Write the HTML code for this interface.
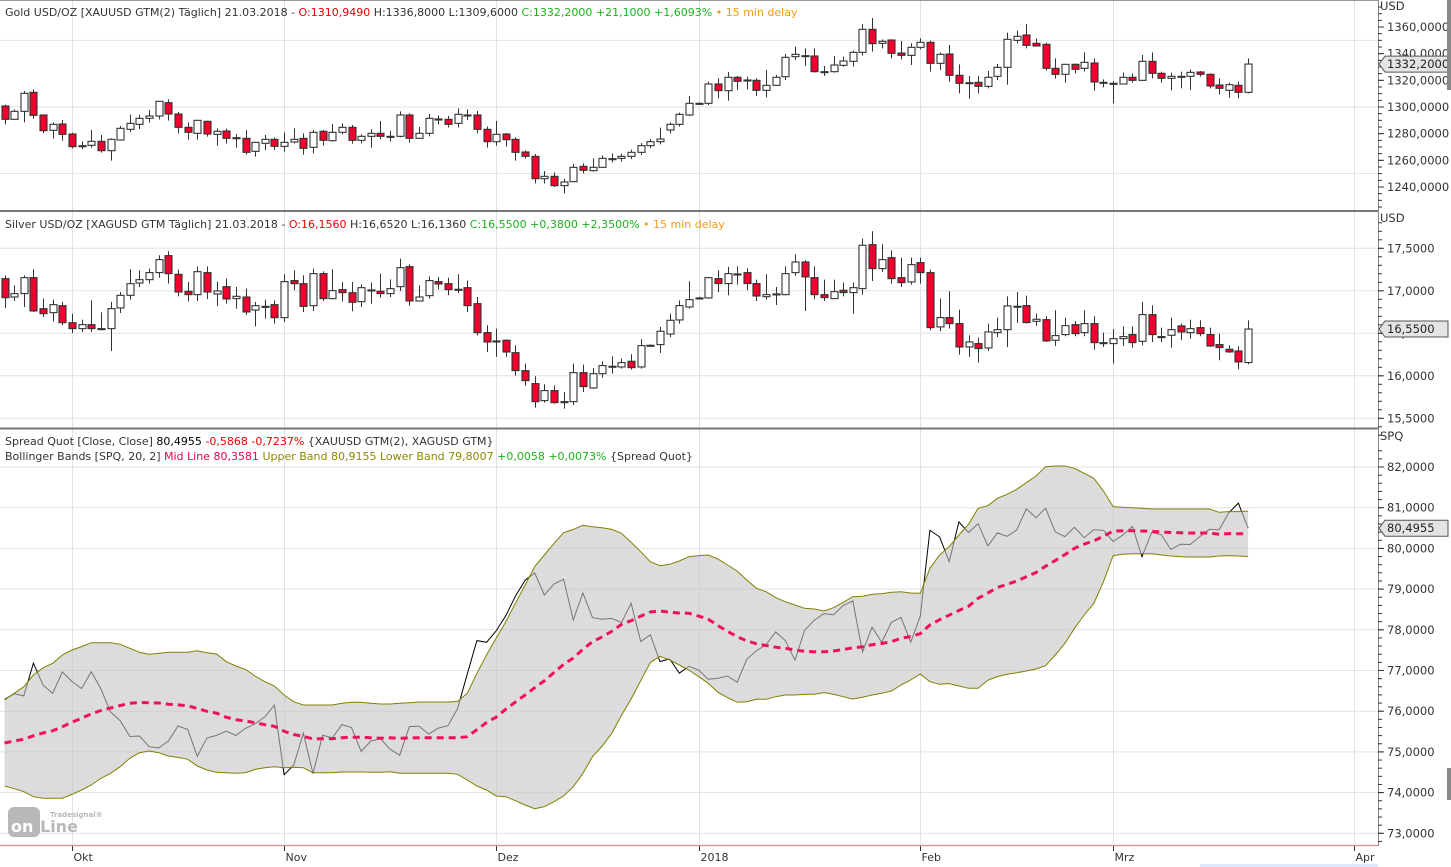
<!DOCTYPE html>
<html><head><meta charset="utf-8">
<style>
html,body{margin:0;padding:0;background:#fff;}
svg{display:block;font-family:"DejaVu Sans","Liberation Sans",sans-serif;}
</style></head>
<body>
<svg id="chart" width="1451" height="867" viewBox="0 0 1451 867" xmlns="http://www.w3.org/2000/svg">
<defs>
<clipPath id="c1"><rect x="0" y="1" width="1378" height="210"/></clipPath>
<clipPath id="c2"><rect x="0" y="213" width="1378" height="215"/></clipPath>
<clipPath id="c3"><rect x="0" y="430" width="1378" height="415"/></clipPath>
</defs>
<rect x="0" y="0" width="1451" height="867" fill="#fff"/>
<g id="grid"></g>
<g id="pane1" clip-path="url(#c1)"></g>
<g id="pane2" clip-path="url(#c2)"></g>
<g id="pane3" clip-path="url(#c3)"></g>
<g id="axes"></g>

<text x="5" y="16" font-size="11" fill="#333">Gold USD/OZ [XAUUSD GTM(2) Täglich] 21.03.2018 - <tspan fill="#e00">O:1310,9490</tspan> H:1336,8000 L:1309,6000 <tspan fill="#1bb31b">C:1332,2000 +21,1000 +1,6093%</tspan> <tspan fill="#f39c12">• 15 min delay</tspan></text>
<text x="5" y="228" font-size="11" fill="#333">Silver USD/OZ [XAGUSD GTM Täglich] 21.03.2018 - <tspan fill="#e00">O:16,1560</tspan> H:16,6520 L:16,1360 <tspan fill="#1bb31b">C:16,5500 +0,3800 +2,3500%</tspan> <tspan fill="#f39c12">• 15 min delay</tspan></text>
<text x="5" y="445" font-size="11" fill="#333">Spread Quot [Close, Close] <tspan fill="#000">80,4955</tspan> <tspan fill="#e00">-0,5868 -0,7237%</tspan> {XAUUSD GTM(2), XAGUSD GTM}</text>
<text x="5" y="460" font-size="11" fill="#333">Bollinger Bands [SPQ, 20, 2] <tspan fill="#e8005a">Mid Line 80,3581</tspan> <tspan fill="#8a8a00">Upper Band 80,9155 Lower Band 79,8007</tspan> <tspan fill="#1bb31b">+0,0058 +0,0073%</tspan> {Spread Quot}</text>

<g>
<rect x="8" y="807" width="32" height="30" rx="6" fill="#b8b8b8"/>
<text x="11" y="832" font-size="16" font-weight="bold" fill="#fff">on</text>
<text x="40" y="832" font-size="16" font-weight="bold" fill="#b8b8b8">Line</text>
<text x="50" y="817" font-size="7" font-weight="bold" fill="#b8b8b8">Tradesignal®</text>
</g>
<rect x="1200" y="864" width="178" height="3" fill="#dde8fb"/>
<rect x="1447" y="0" width="4" height="90" fill="#888"/>
<rect x="1447" y="768" width="4" height="32" fill="#888"/>
</svg>
<script>
const goldO=[1300.75,1290.75,1296.75,1311,1294,1282.5,1287.25,1279.75,1271,1271.25,1274.25,1267.25,1275.25,1283.25,1287,1291.5,1293.25,1303.25,1294.75,1284.75,1280.25,1289.25,1279.5,1282,1277,1276.5,1266.75,1272.75,1275.75,1270.5,1273.75,1276.5,1269.75,1281.75,1274.75,1281,1284.75,1275,1278,1280.25,1278,1278,1294,1276.5,1280.25,1291,1290.75,1287.75,1294,1294,1283.25,1274,1279.75,1275.75,1266.25,1263,1246.25,1248,1241,1244,1255.5,1252.25,1254.75,1261.25,1261.5,1263,1266,1271,1274,1282.75,1287,1294,1302.75,1302.75,1317.25,1312.25,1322.25,1320.25,1320,1312.5,1316.25,1322.75,1337.75,1338.5,1338.25,1326.5,1326.5,1331.25,1334.25,1341,1358.25,1347.75,1350.25,1340.5,1338.75,1344.75,1348.5,1332.75,1339.75,1323.75,1318.25,1318.5,1315.5,1323,1329.75,1350,1354,1347.75,1347,1329,1324.5,1332,1329,1333,1318.5,1317.75,1317.25,1322.25,1320,1334.25,1325.25,1321.5,1323,1323,1326.25,1324.5,1316.5,1312.5,1316.25,1311];
const goldH=[1301.75,1298.25,1312,1313.25,1294,1288.5,1290.25,1280.75,1274.25,1282.75,1279,1276.5,1285.75,1294.25,1294.25,1297.75,1304.25,1305.75,1296.25,1288.5,1290,1289.75,1284,1283.75,1279.75,1282.75,1273.5,1279,1277.25,1281,1284,1280.25,1282.75,1282.75,1287.25,1287.75,1286.5,1279.5,1283.25,1289.5,1282,1296.75,1295.25,1285,1294.75,1293.75,1293.25,1299,1298.25,1297,1285.25,1289.5,1280.5,1277.25,1267.5,1264.75,1252,1251,1246.25,1257.25,1257.75,1261.5,1263.75,1265.25,1265,1268,1273,1276,1284.5,1288.5,1295.75,1308.25,1303.5,1319,1321.5,1326.25,1323.25,1322.75,1321.5,1327.75,1324,1339.75,1345.25,1344,1344,1330.75,1338.25,1337.75,1342.25,1362.25,1366.75,1350.75,1350.75,1349.5,1347.75,1351.5,1349.75,1341,1346.5,1332,1323.25,1323.25,1327,1332.25,1355.75,1357.25,1362.25,1351.5,1348.25,1336.5,1332,1332.75,1341,1336.5,1320.75,1319.5,1325.75,1325.25,1339,1341,1326.5,1325.75,1326.5,1328.25,1327,1325.25,1321.5,1318.25,1319,1336.5];
const goldL=[1287,1290.75,1288.5,1291.25,1280.25,1276.25,1274.75,1269,1268.5,1269.5,1265.75,1259.75,1274.75,1281.25,1283.5,1288.25,1290.75,1289.75,1280.25,1275.5,1275.5,1277.75,1271,1272.5,1269.5,1264.25,1262.75,1267.75,1267.75,1266.5,1272.75,1264.25,1265.25,1271,1274,1279.5,1272.5,1272.75,1269.5,1275.75,1274.25,1277.25,1273.25,1276.5,1278,1287,1284.75,1284.75,1290.25,1280.25,1269.5,1271,1270.25,1259.75,1261.25,1242.75,1242.75,1240,1235.25,1244,1250.25,1251.5,1254.75,1258.5,1259,1261,1264,1269,1272,1280,1285.25,1293.25,1302,1301.5,1306.5,1304.75,1312.75,1313.25,1308.25,1307.25,1315.75,1320.25,1335.25,1330.75,1325.75,1323.25,1325.75,1330.25,1330.25,1338.5,1341.5,1344,1336.5,1335.75,1331.5,1343.25,1326.5,1327.75,1319,1310.25,1306.25,1310.25,1314,1320.25,1316.75,1347.75,1344,1345.25,1327.25,1321.25,1318.25,1325.25,1326.5,1312.25,1314.75,1302.75,1317.25,1318.25,1319.5,1321.5,1318.25,1312.5,1314,1312.75,1322.75,1314,1309.5,1307,1306.5,1310.25];
const goldC=[1290.75,1296.75,1310.25,1293.75,1282.25,1287,1279.5,1270.25,1271,1274.25,1267.25,1275.75,1284,1287.75,1291.5,1293.25,1304.25,1294.75,1284.75,1281,1290,1279.75,1281.75,1276.5,1277,1266,1273.5,1275.75,1270.5,1273.5,1275.75,1269,1281,1275,1281,1284.75,1275,1278,1280.25,1278,1278,1294,1276.5,1280.25,1291.5,1291,1287,1294.5,1294,1283.25,1274,1279.5,1275.5,1266,1263,1246.25,1248,1241,1243.75,1254.75,1252.5,1254.75,1261.5,1261.25,1263,1266,1271,1274,1276,1287,1294.5,1302.75,1302.75,1317.25,1312.25,1322.25,1319.25,1320.25,1312.5,1316.25,1322.25,1337.25,1339.5,1338.5,1326.5,1326.5,1331.5,1334.5,1341,1358.25,1347.5,1349.25,1340.25,1338.75,1344.75,1348.5,1332.75,1339.5,1323.75,1317.75,1318.25,1315.5,1322.25,1329.75,1350.75,1353,1346.25,1345.75,1329,1324.5,1332,1328.25,1333.5,1318.75,1318.5,1317.75,1322.25,1320,1334.25,1325.25,1321.5,1323,1323,1326,1324.5,1315.75,1314,1316.75,1311,1332.2];
const silverO=[17.143,16.927,16.967,17.155,16.79,16.743,16.825,16.625,16.555,16.602,16.555,16.555,16.798,16.947,17.092,17.131,17.214,17.414,17.194,16.994,16.955,17.214,16.963,17.049,16.908,16.927,16.774,16.817,16.837,16.684,17.12,17.084,16.825,17.202,16.908,17.014,16.978,16.872,17.01,16.994,16.967,17.049,17.284,16.88,16.943,17.108,17.084,17.018,17.037,16.849,16.508,16.41,16.418,16.272,16.061,15.908,15.708,15.826,15.696,15.696,16.037,15.857,16.025,16.112,16.104,16.171,16.104,16.355,16.367,16.492,16.657,16.81,16.916,16.916,17.143,17.085,17.198,17.214,17.085,16.931,16.963,16.955,17.214,17.339,17.155,16.955,16.908,17.006,16.979,17.026,17.543,17.261,17.39,17.155,17.104,17.332,17.214,16.575,16.685,16.614,16.339,16.379,16.328,16.508,16.543,16.818,16.826,16.641,16.661,16.418,16.485,16.602,16.508,16.614,16.39,16.379,16.437,16.485,16.406,16.72,16.461,16.477,16.587,16.508,16.567,16.485,16.367,16.312,16.292,16.156];
const silverH=[17.182,17.064,17.182,17.253,16.908,16.896,16.869,16.731,16.661,16.888,16.747,16.869,16.986,17.253,17.241,17.261,17.418,17.465,17.249,17.104,17.288,17.288,17.108,17.143,17.045,17.025,16.869,16.896,16.888,17.194,17.241,17.182,17.261,17.229,17.253,17.104,17.104,17.076,17.096,17.202,17.135,17.378,17.312,17.064,17.17,17.163,17.155,17.194,17.123,16.927,16.594,16.555,16.429,16.359,16.143,15.994,15.9,15.888,15.81,16.143,16.131,16.092,16.171,16.229,16.202,16.253,16.43,16.37,16.575,16.732,16.888,17.112,16.93,17.163,17.241,17.281,17.288,17.265,17.132,17.194,17.045,17.288,17.43,17.359,17.288,17.132,17.132,17.096,17.096,17.614,17.7,17.547,17.477,17.39,17.39,17.39,17.249,16.908,16.994,16.779,16.477,16.449,16.614,16.685,16.935,16.987,16.943,16.732,16.7,16.771,16.685,16.645,16.771,16.7,16.508,16.547,16.582,16.582,16.869,16.83,16.567,16.685,16.614,16.661,16.653,16.567,16.496,16.359,16.347,16.652];
const silverL=[16.798,16.88,16.81,16.751,16.692,16.641,16.594,16.504,16.516,16.516,16.535,16.292,16.739,16.896,17.045,17.084,17.155,17.084,16.935,16.876,16.88,16.904,16.821,16.849,16.79,16.716,16.582,16.672,16.614,16.633,17.006,16.751,16.763,16.88,16.9,16.876,16.759,16.81,16.849,16.919,16.927,16.998,16.825,16.88,16.908,17.017,16.947,16.974,16.751,16.476,16.28,16.222,16.222,16.002,15.884,15.625,15.684,15.672,15.614,15.657,15.81,15.845,15.978,16.025,16.084,16.073,16.085,16.35,16.269,16.457,16.614,16.79,16.9,16.908,16.986,16.947,17.073,17.006,16.88,16.896,16.833,16.947,17.175,16.763,16.9,16.88,16.908,16.935,16.731,16.955,17.116,17.222,17.085,17.045,17.073,17.085,16.535,16.524,16.555,16.249,16.222,16.155,16.292,16.457,16.339,16.622,16.614,16.587,16.398,16.351,16.465,16.465,16.465,16.308,16.339,16.143,16.351,16.332,16.359,16.398,16.398,16.332,16.418,16.438,16.465,16.339,16.183,16.269,16.077,16.136];
const silverC=[16.919,16.967,17.155,16.763,16.731,16.837,16.625,16.555,16.602,16.555,16.555,16.79,16.947,17.084,17.131,17.214,17.367,17.202,16.986,16.955,17.225,16.986,16.998,16.904,16.935,16.751,16.825,16.817,16.684,17.108,17.084,16.817,17.202,16.908,17.002,16.978,16.865,17.037,17.01,16.967,17.025,17.272,16.88,16.927,17.12,17.08,17.014,17.018,16.825,16.508,16.398,16.41,16.28,16.061,15.943,15.696,15.826,15.684,15.696,16.037,15.873,16.025,16.12,16.112,16.155,16.096,16.355,16.359,16.524,16.653,16.826,16.896,16.916,17.155,17.085,17.202,17.198,17.085,16.939,16.955,16.963,17.202,17.339,17.163,16.955,16.92,16.99,16.979,17.037,17.536,17.261,17.367,17.143,17.096,17.308,17.214,16.567,16.685,16.614,16.339,16.398,16.32,16.516,16.543,16.822,16.818,16.626,16.665,16.41,16.473,16.59,16.496,16.614,16.39,16.39,16.437,16.461,16.39,16.72,16.485,16.45,16.543,16.516,16.555,16.496,16.351,16.332,16.281,16.163,16.55];
const upperBand=[76.275,76.439,76.603,76.89,77.07,77.176,77.381,77.504,77.586,77.684,77.684,77.684,77.643,77.545,77.446,77.397,77.421,77.446,77.446,77.446,77.487,77.438,77.405,77.217,77.11,77.028,76.865,76.725,76.619,76.398,76.234,76.152,76.152,76.152,76.152,76.193,76.218,76.218,76.193,76.177,76.177,76.193,76.21,76.226,76.226,76.226,76.226,76.242,76.439,76.93,77.381,77.79,78.2,78.65,79.1,79.551,79.838,80.124,80.386,80.468,80.567,80.534,80.509,80.468,80.37,80.149,79.92,79.674,79.576,79.609,79.691,79.797,79.822,79.838,79.74,79.592,79.445,79.224,79.019,78.937,78.79,78.691,78.61,78.528,78.511,78.462,78.544,78.675,78.814,78.822,78.872,78.888,78.921,78.937,78.904,78.896,79.51,79.838,80.043,80.329,80.591,80.985,81.05,81.23,81.329,81.451,81.615,81.779,82.008,82.025,82.025,81.967,81.845,81.722,81.41,81.026,81.009,81.001,80.985,80.968,80.968,80.968,80.968,80.968,80.968,80.968,80.886,80.903,80.903,80.9155];
const lowerBand=[74.162,74.096,74.023,73.9,73.859,73.859,73.859,73.957,74.064,74.186,74.35,74.473,74.637,74.842,74.981,75.022,74.981,74.899,74.866,74.817,74.653,74.555,74.498,74.49,74.473,74.49,74.571,74.612,74.637,74.612,74.621,74.612,74.49,74.49,74.49,74.506,74.506,74.506,74.498,74.498,74.514,74.473,74.473,74.473,74.473,74.473,74.473,74.449,74.309,74.162,74.064,73.916,73.9,73.802,73.695,73.605,73.654,73.777,73.916,74.146,74.473,74.883,75.145,75.456,75.9,76.3,76.75,77.2,77.35,77.258,77.135,77.012,76.849,76.685,76.464,76.333,76.218,76.234,76.292,76.292,76.357,76.398,76.398,76.415,76.415,76.456,76.415,76.357,76.3,76.341,76.398,76.439,76.497,76.644,76.767,76.914,76.726,76.66,76.677,76.62,76.562,76.562,76.758,76.849,76.906,76.947,76.988,77.037,77.119,77.381,77.668,78.036,78.364,78.651,79.183,79.822,79.854,79.871,79.871,79.871,79.838,79.813,79.797,79.789,79.789,79.789,79.813,79.822,79.813,79.8007];
const goldTicks=[1360,1340,1320,1300,1280,1260,1240];
const goldGrid=[1350,1300,1250];
const silverTicks=[17.5,17.0,16.5,16.0,15.5];
const spreadTicks=[82,81,80,79,78,77,76,75,74,73];
const monthLabels=["Okt","Nov","Dez","2018","Feb","Mrz","Apr"];
const monthIndex=[7,29,51,72,95,115,140];

const NS="http://www.w3.org/2000/svg";
function el(tag,attrs,parent){const e=document.createElementNS(NS,tag);for(const k in attrs)e.setAttribute(k,attrs[k]);if(parent)parent.appendChild(e);return e;}
const xAt=i=>4.5+9.64*i;
const yGold=v=>27+(1360-v)*(160/120);
const ySilver=v=>248.3+(17.5-v)*85;
const ySpread=v=>467+(82-v)*40.7;
const fmt=(v,d)=>v.toFixed(d).replace('.',',');
const grid=document.getElementById('grid'),axes=document.getElementById('axes');
const p1=document.getElementById('pane1'),p2=document.getElementById('pane2'),p3=document.getElementById('pane3');

monthIndex.forEach((mi,k)=>{
  const x=Math.round(xAt(mi))+0.5;
  const g=el('line',{x1:x,x2:x,y1:1,y2:845,stroke:'#e2e2e2','stroke-width':1},grid);
  
  
  const t=el('line',{x1:x,x2:x,y1:845,y2:851,stroke:'#333'},axes);
  
  
  const lb=el('text',{x:x+1,y:861,'font-size':11,fill:'#333'},axes);
  lb.textContent=monthLabels[k];
  
  
});
goldGrid.forEach(v=>{const l=el('line',{x1:0,x2:1378,y1:yGold(v),y2:yGold(v),stroke:'#e2e2e2'},grid);});
silverTicks.forEach(v=>{const l=el('line',{x1:0,x2:1378,y1:ySilver(v),y2:ySilver(v),stroke:'#e2e2e2'},grid);});
spreadTicks.forEach(v=>{const l=el('line',{x1:0,x2:1378,y1:ySpread(v),y2:ySpread(v),stroke:'#e2e2e2'},grid);});

function candles(parent,O,H,L,C,ys,name){
  for(let i=0;i<C.length;i++){
    const x=Math.round(xAt(i))+0.5;
    const w=el('line',{x1:x,x2:x,y1:ys(H[i]),y2:ys(L[i]),stroke:'#333','stroke-width':1},parent);
    
    
    const top=ys(Math.max(O[i],C[i])),bot=ys(Math.min(O[i],C[i]));
    const up=C[i]>=O[i];
    const b=el('rect',{x:x-3.5,y:top,width:7,height:Math.max(bot-top,1),fill:up?'#fff':'#f0002a',stroke:'#333','stroke-width':1.1},parent);
    
    
  }
}
candles(p1,goldO,goldH,goldL,goldC,yGold,'gold');
candles(p2,silverO,silverH,silverL,silverC,ySilver,'silver');

const spread=goldC.map((g,i)=>g/silverC[i]);
const midLine=upperBand.map((u,i)=>(u+lowerBand[i])/2);
function pathOf(arr){let d='';arr.forEach((v,i)=>{d+=(i?'L':'M')+xAt(i).toFixed(1)+' '+ySpread(v).toFixed(1);});return d;}
const sl=el('path',{d:pathOf(spread),fill:'none',stroke:'#000','stroke-width':1},p3);


let band=pathOf(upperBand);
for(let i=lowerBand.length-1;i>=0;i--)band+='L'+xAt(i).toFixed(1)+' '+ySpread(lowerBand[i]).toFixed(1);
const bf=el('path',{d:band+'Z',fill:'rgb(197,197,197)','fill-opacity':0.6,stroke:'none'},p3);


const ub=el('path',{d:pathOf(upperBand),fill:'none',stroke:'#808000','stroke-width':1},p3);


const lbd=el('path',{d:pathOf(lowerBand),fill:'none',stroke:'#808000','stroke-width':1},p3);


const ml=el('path',{d:pathOf(midLine),fill:'none',stroke:'#f0105f','stroke-width':3,'stroke-dasharray':'7 5'},p3);



[[0,0.5,1378,0.5,'#999',1],[0,211,1378,211,'#777',2],[0,428.5,1378,428.5,'#777',2],[0,845.5,1378,845.5,'#d49a9a',1.5],[1378.5,0,1378.5,846,'#888',1]].forEach(a=>{
  const l=el('line',{x1:a[0],y1:a[1],x2:a[2],y2:a[3],stroke:a[4],'stroke-width':a[5]},axes);
  
  
});
function axisLabels(ticks,ys,dec,minorStep,lo,hi,name){
  ticks.forEach(v=>{
    const y=ys(v);
    const tk=el('line',{x1:1378,x2:1384,y1:y,y2:y,stroke:'#333'},axes);
    
    
    const t=el('text',{x:1387,y:y+4,'font-size':11.5,fill:'#333'},axes);
    t.textContent=fmt(v,dec);
    
    
  });
  for(let v=lo;v<=hi+1e-9;v+=minorStep){
    const y=ys(v);
    const m=el('line',{x1:1378,x2:1382,y1:y,y2:y,stroke:'#333'},axes);
    
    
  }
}
axisLabels(goldTicks,yGold,4,5,1225,1375,'gold-axis');
axisLabels(silverTicks,ySilver,4,0.1,15.3,17.8,'silver-axis');
axisLabels(spreadTicks,ySpread,4,0.2,72.8,82.4,'spread-axis');
[['USD',10],['USD',222],['SPQ',440]].forEach(u=>{
  const t=el('text',{x:1380,y:u[1],'font-size':11.5,fill:'#333'},axes);
  t.textContent=u[0];
  
  
});
function tag(y,txt,name){
  const g=el('g',{},axes);
  
  
  el('path',{d:`M1379 ${y} L1385 ${y-8} L1448 ${y-8} L1448 ${y+8} L1385 ${y+8} Z`,fill:'#e4e4e4',stroke:'#555','stroke-width':1},g);
  const t=el('text',{x:1387,y:y+4,'font-size':11.5,fill:'#222'},g);
  t.textContent=txt;
}
const lastSpread=spread[spread.length-1];
tag(yGold(goldC[goldC.length-1]),fmt(goldC[goldC.length-1],4),'gold-last-price-tag');
tag(ySilver(silverC[silverC.length-1]),fmt(silverC[silverC.length-1],4),'silver-last-price-tag');
tag(ySpread(lastSpread),fmt(lastSpread,4),'spread-last-value-tag');
</script>
</body></html>
